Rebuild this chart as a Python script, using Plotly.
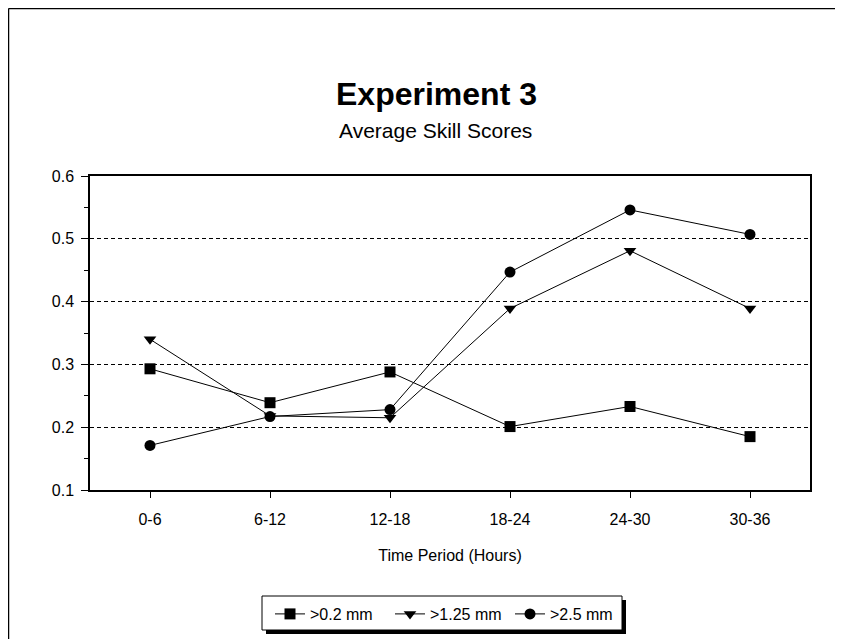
import plotly.graph_objects as go

categories = ["0-6", "6-12", "12-18", "18-24", "24-30", "30-36"]
s_02 = [0.293, 0.239, 0.288, 0.201, 0.233, 0.185]
s_125 = [0.340, 0.218, 0.215, 0.389, 0.481, 0.389]
s_25 = [0.171, 0.217, 0.228, 0.447, 0.546, 0.507]
series_names = [">0.2 mm", ">1.25 mm", ">2.5 mm"]
y_ticks = [0.1, 0.2, 0.3, 0.4, 0.5, 0.6]

FONT = "Liberation Sans, Arial, sans-serif"

# page body has an 8px margin; work in screen pixels and shift by OFF
OFF = 8
W, H = 843 - OFF, 639 - OFF
L, T = 90 - OFF, 176 - OFF
R = W - (810 - OFF)
B = H - (490 - OFF)
pw, ph = W - L - R, H - T - B


def px(x):
    return (x - OFF - L) / pw


def py(y):
    return (H - B - (y - OFF)) / ph


fig = go.Figure()
for name, vals, sym in zip(series_names, [s_02, s_125, s_25],
                           ["square", "triangle-down", "circle"]):
    fig.add_trace(go.Scatter(
        x=categories, y=vals, name=name, mode="lines+markers",
        line=dict(color="black", width=1),
        marker=dict(symbol=sym, size=11, color="black"),
    ))

fig.update_layout(
    width=W, height=H,
    margin=dict(l=L, r=R, t=T, b=B, autoexpand=False),
    paper_bgcolor="white", plot_bgcolor="white",
    font=dict(family=FONT, color="black", size=16),
    showlegend=True,
    legend=dict(
        orientation="h", x=px(270), xanchor="left", y=py(597), yanchor="top",
        bgcolor="rgba(0,0,0,0)", borderwidth=0,
        font=dict(size=16, family=FONT),
        entrywidth=75, entrywidthmode="pixels",
        tracegroupgap=0,
    ),
    xaxis=dict(
        type="category", showline=True, linecolor="black", linewidth=1.5,
        mirror=True, ticks="outside", ticklen=6, tickcolor="black",
        showgrid=False, tickfont=dict(size=16), range=[-0.5, 5.5],
        ticklabelstandoff=8,
        title=dict(text="Time Period (Hours)", font=dict(size=16), standoff=23),
    ),
    yaxis=dict(
        range=[0.1, 0.6], tickvals=y_ticks, ticktext=[f"{v:.1f}" for v in y_ticks],
        showline=True, linecolor="black", linewidth=1.5, mirror=True,
        ticks="outside", ticklen=7, tickcolor="black",
        showgrid=True, gridcolor="black", gridwidth=1, griddash="4px,3px",
        tickfont=dict(size=16), zeroline=False, ticklabelstandoff=4,
        minor=dict(dtick=0.05, ticks="outside", ticklen=4, tickcolor="black", showgrid=False),
    ),
    annotations=[
        dict(text="<b>Experiment 3</b>", x=px(436), y=py(94), xref="paper", yref="paper",
             showarrow=False, font=dict(size=32, family=FONT), xanchor="center", yanchor="middle"),
        dict(text="Average Skill Scores", x=px(435), y=py(131), xref="paper", yref="paper",
             showarrow=False, font=dict(size=21, family=FONT), xanchor="center", yanchor="middle"),
    ],
    shapes=[
        # outer frame: top and left edges only are visible
        dict(type="line", xref="paper", yref="paper", x0=px(8.5), x1=px(880), y0=py(8.5), y1=py(8.5),
             line=dict(color="black", width=1.5), layer="below"),
        dict(type="line", xref="paper", yref="paper", x0=px(8.5), x1=px(8.5), y0=py(8.5), y1=py(680),
             line=dict(color="black", width=1.5), layer="below"),
        # legend shadow
        dict(type="rect", xref="paper", yref="paper", x0=px(266), x1=px(626), y0=py(634), y1=py(600),
             line=dict(width=0), fillcolor="black", layer="above"),
        # legend box
        dict(type="rect", xref="paper", yref="paper", x0=px(262), x1=px(622), y0=py(630), y1=py(596),
             line=dict(color="black", width=1), fillcolor="white", layer="above"),
    ],
)

fig.write_html("out.html")
